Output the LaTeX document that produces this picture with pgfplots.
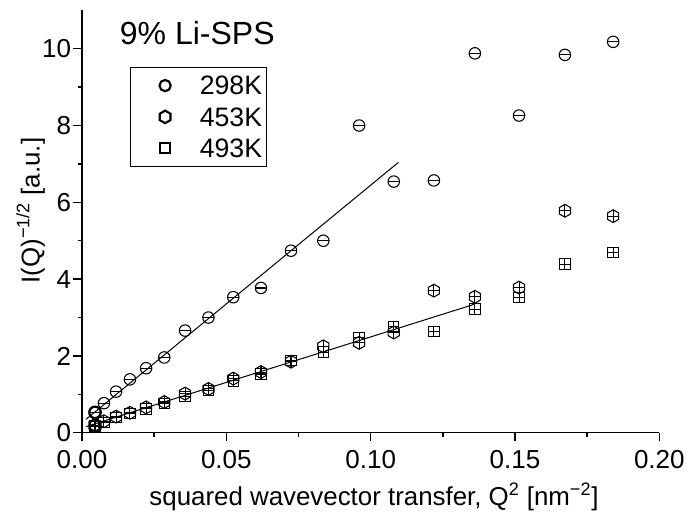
\documentclass[border=0pt]{standalone}
\usepackage{fontspec}
\setmainfont{Liberation Sans}
\usepackage{pgfplots}
\usepackage{pgfplotstable}
\pgfplotsset{compat=1.18}

\pgfdeclareplotmark{cbar}{%
  \pgfpathcircle{\pgfpointorigin}{\pgfplotmarksize}%
  \pgfusepathqstroke
  \pgfsetlinewidth{0.8pt}%
  \pgfpathmoveto{\pgfpoint{-\pgfplotmarksize}{0pt}}%
  \pgfpathlineto{\pgfpoint{\pgfplotmarksize}{0pt}}%
  \pgfusepathqstroke}
\pgfdeclareplotmark{hexp}{%
  \pgfpathmoveto{\pgfpointpolar{90}{1.12\pgfplotmarksize}}%
  \pgfpathlineto{\pgfpointpolar{150}{1.12\pgfplotmarksize}}%
  \pgfpathlineto{\pgfpointpolar{210}{1.12\pgfplotmarksize}}%
  \pgfpathlineto{\pgfpointpolar{270}{1.12\pgfplotmarksize}}%
  \pgfpathlineto{\pgfpointpolar{330}{1.12\pgfplotmarksize}}%
  \pgfpathlineto{\pgfpointpolar{30}{1.12\pgfplotmarksize}}%
  \pgfpathclose\pgfusepathqstroke}
\pgfdeclareplotmark{hexc}{%
  \pgfpathmoveto{\pgfpointpolar{90}{1.12\pgfplotmarksize}}%
  \pgfpathlineto{\pgfpointpolar{150}{1.12\pgfplotmarksize}}%
  \pgfpathlineto{\pgfpointpolar{210}{1.12\pgfplotmarksize}}%
  \pgfpathlineto{\pgfpointpolar{270}{1.12\pgfplotmarksize}}%
  \pgfpathlineto{\pgfpointpolar{330}{1.12\pgfplotmarksize}}%
  \pgfpathlineto{\pgfpointpolar{30}{1.12\pgfplotmarksize}}%
  \pgfpathclose\pgfusepathqstroke
  \pgfsetlinewidth{0.8pt}%
  \pgfpathmoveto{\pgfpoint{-0.95\pgfplotmarksize}{0pt}}%
  \pgfpathlineto{\pgfpoint{0.95\pgfplotmarksize}{0pt}}%
  \pgfpathmoveto{\pgfpoint{0pt}{-1.1\pgfplotmarksize}}%
  \pgfpathlineto{\pgfpoint{0pt}{1.1\pgfplotmarksize}}%
  \pgfusepathqstroke}
\pgfdeclareplotmark{sqc}{%
  \pgfpathrectanglecorners{\pgfpoint{-\pgfplotmarksize}{-\pgfplotmarksize}}{\pgfpoint{\pgfplotmarksize}{\pgfplotmarksize}}%
  \pgfusepathqstroke
  \pgfsetlinewidth{0.8pt}%
  \pgfpathmoveto{\pgfpoint{-\pgfplotmarksize}{0pt}}%
  \pgfpathlineto{\pgfpoint{\pgfplotmarksize}{0pt}}%
  \pgfpathmoveto{\pgfpoint{0pt}{-\pgfplotmarksize}}%
  \pgfpathlineto{\pgfpoint{0pt}{\pgfplotmarksize}}%
  \pgfusepathqstroke}

\pgfplotstableread{
x y
0.0045 0.53
0.0076 0.77
0.0118 1.07
0.0166 1.39
0.0222 1.68
0.0285 1.96
0.0357 2.66
0.0438 3.00
0.0524 3.53
0.0620 3.77
0.0724 4.74
0.0836 5.00
0.0960 8.00
0.1080 6.54
0.1219 6.57
0.1361 9.88
0.1514 8.26
0.1673 9.84
0.1840 10.18
}\tA
\pgfplotstableread{
x y
0.0045 0.19
0.0076 0.30
0.0118 0.42
0.0166 0.52
0.0222 0.66
0.0285 0.80
0.0357 1.02
0.0438 1.14
0.0524 1.41
0.0620 1.58
0.0724 1.85
0.0836 2.25
0.0960 2.34
0.1080 2.61
0.1219 3.70
0.1361 3.54
0.1514 3.78
0.1673 5.78
0.1840 5.64
}\tB
\pgfplotstableread{
x y
0.0045 0.17
0.0076 0.27
0.0118 0.40
0.0166 0.50
0.0222 0.62
0.0285 0.76
0.0357 0.95
0.0438 1.10
0.0524 1.35
0.0620 1.53
0.0724 1.88
0.0836 2.10
0.0960 2.48
0.1080 2.76
0.1219 2.63
0.1361 3.22
0.1514 3.52
0.1673 4.39
0.1840 4.70
}\tC

\begin{document}
\begin{tikzpicture}
\useasboundingbox (0,0) rectangle (522pt,383.25pt);
\begin{axis}[
  at={(61.5pt,58.7pt)}, anchor=south west,
  scale only axis, width=433pt, height=316.8pt,
  xmin=0, xmax=0.2, ymin=0, ymax=11,
  axis x line*=bottom, axis y line*=left,
  axis line style={line width=1.1pt},
  every tick/.style={black, line width=1.1pt},
  tick align=outside,
  major tick length=6.5pt, minor tick length=3pt,
  xtick={0,0.05,0.1,0.15,0.2}, ytick={0,2,4,6,8,10},
  minor x tick num=1, minor y tick num=1,
  x tick label style={/pgf/number format/.cd, fixed, fixed zerofill, precision=2, assume math mode=true},
  y tick label style={/pgf/number format/assume math mode=true, inner sep=1.5pt},
  tick label style={font=\fontsize{19.5}{23}\selectfont},
  xticklabel shift=3.5pt,
  scaled x ticks=false,
  label style={font=\fontsize{19.4}{23}\selectfont},
  xlabel={squared wavevector transfer, Q\textsuperscript{2} [nm\textsuperscript{−2}]},
  ylabel={I(Q)\textsuperscript{−1/2} [a.u.]},
  x label style={at={(axis description cs:0.5057,-0.151)}, anchor=center},
  y label style={at={(axis description cs:-0.089,0.526)}, anchor=center},
  legend style={at={(axis description cs:0.083,0.8665)}, anchor=north west,
    draw=black, line width=0.8pt, inner xsep=3pt, inner ysep=2pt,
    font=\fontsize{20}{24}\selectfont, row sep=0pt,
    nodes={inner sep=0pt, text depth=0pt}},
  legend cell align=left,
  legend image code/.code={\path[draw=none] (-23pt,-11.75pt) rectangle (26pt,11.75pt); \draw[#1] plot coordinates {(0pt,0pt)};},
]
\addlegendimage{only marks, mark=o, mark size=4.2pt, line width=1.6pt, black}
\addlegendentry{298K}
\addlegendimage{only marks, mark=hexp, mark size=4.2pt, line width=1.6pt, black}
\addlegendentry{453K}
\addlegendimage{only marks, mark=square, mark size=3.8pt, line width=1.6pt, black}
\addlegendentry{493K}

\addplot[forget plot, black, line width=0.75pt] coordinates {(0.0014,0.35) (0.1096,7.04)};
\addplot[forget plot, black, line width=0.75pt] coordinates {(0.0014,0.16) (0.1361,3.35)};
\addplot[forget plot, only marks, mark=hexc, mark size=4.3pt, line width=1.7pt, black] table {\tB};
\addplot[forget plot, only marks, mark=sqc, mark size=3.9pt, line width=1.7pt, black] table {\tC};
\addplot[forget plot, only marks, mark=cbar, mark size=4.3pt, line width=1.7pt, black] table {\tA};

\node[anchor=base west, font=\fontsize{24}{28}\selectfont] at (axis cs:0.0115,10.1) {9\% Li-SPS};
\end{axis}
\end{tikzpicture}
\end{document}
